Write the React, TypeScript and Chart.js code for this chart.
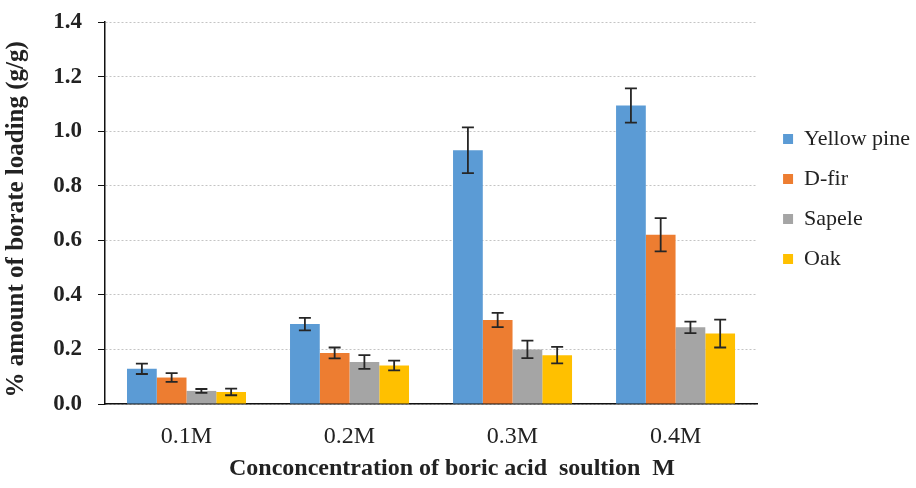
import React, { useEffect, useRef } from "react";
import { Chart, registerables } from "chart.js";

Chart.register(...registerables);

const categories = ["0.1M", "0.2M", "0.3M", "0.4M"];
const yellowPine = [0.129, 0.293, 0.93, 1.094];
const dFir = [0.097, 0.187, 0.308, 0.62];
const sapele = [0.048, 0.154, 0.2, 0.281];
const oak = [0.044, 0.141, 0.179, 0.258];
const yellowPineErr = [0.019, 0.023, 0.084, 0.063];
const dFirErr = [0.016, 0.02, 0.026, 0.061];
const sapeleErr = [0.007, 0.025, 0.032, 0.021];
const oakErr = [0.012, 0.018, 0.03, 0.051];

const FONT = "'Liberation Serif', 'Times New Roman', serif";

const errorBarPlugin = {
  id: "errorBars",
  afterDatasetsDraw(chart: any) {
    const ctx = chart.ctx;
    const yScale = chart.scales.y;
    chart.data.datasets.forEach((ds: any, i: number) => {
      const meta = chart.getDatasetMeta(i);
      const errs: number[] = ds.errors || [];
      meta.data.forEach((bar: any, j: number) => {
        const v = ds.data[j];
        const e = errs[j];
        if (e == null) return;
        const x = bar.x;
        const yt = yScale.getPixelForValue(v + e);
        const yb = yScale.getPixelForValue(v - e);
        ctx.save();
        ctx.strokeStyle = "#262626";
        ctx.lineWidth = 1.8;
        ctx.beginPath();
        ctx.moveTo(x, yt);
        ctx.lineTo(x, yb);
        ctx.moveTo(x - 6, yt);
        ctx.lineTo(x + 6, yt);
        ctx.moveTo(x - 6, yb);
        ctx.lineTo(x + 6, yb);
        ctx.stroke();
        ctx.restore();
      });
    });
  },
};

const legendShiftPlugin = {
  id: "legendShift",
  afterLayout(chart: any) {
    if (chart.legend) {
      chart.legend.left += 8;
      chart.legend.right += 8;
    }
  },
};

export default function App() {
  const ref = useRef<HTMLCanvasElement | null>(null);
  useEffect(() => {
    document.body.style.margin = "0";
    Chart.defaults.font.family = FONT;
    const c = ref.current;
    if (!c) return;
    const chart = new Chart(c, {
      type: "bar",
      data: {
        labels: categories,
        datasets: [
          { label: "Yellow pine", data: yellowPine, errors: yellowPineErr, backgroundColor: "#5B9BD5" } as any,
          { label: "D-fir", data: dFir, errors: dFirErr, backgroundColor: "#ED7D31" } as any,
          { label: "Sapele", data: sapele, errors: sapeleErr, backgroundColor: "#A5A5A5" } as any,
          { label: "Oak", data: oak, errors: oakErr, backgroundColor: "#FFC000" } as any,
        ],
      },
      options: {
        animation: false,
        responsive: false,
        maintainAspectRatio: false,
        font: { family: FONT },
        layout: { padding: { top: 22, right: 4, bottom: 0, left: 0 } },
        datasets: { bar: { categoryPercentage: 0.73, barPercentage: 1 } },
        plugins: {
          tooltip: { enabled: false },
          legend: {
            position: "right",
            align: "start",
            title: {
              display: true,
              text: "",
              font: { family: FONT, size: 10 },
              padding: 38,
            },
            labels: {
              boxWidth: 10,
              boxHeight: 10,
              padding: 18,
              color: "#222",
              font: { family: FONT, size: 22 },
            },
          },
        },
        scales: {
          x: {
            grid: { display: false },
            border: { display: true, color: "#111", width: 1.5 },
            ticks: { color: "#222", padding: 10, font: { family: FONT, size: 24 } },
            title: {
              display: true,
              text: "       Conconcentration of boric acid  soultion  M",
              color: "#222",
              font: { family: FONT, size: 24, weight: "bold" },
              padding: { top: 4, bottom: 5 },
            },
            afterFit: (scale: any) => {
              scale.height = 84;
            },
          },
          y: {
            min: 0,
            max: 1.4,
            ticks: {
              stepSize: 0.2,
              color: "#222",
              padding: 16,
              font: { family: FONT, size: 23, weight: "bold" },
              callback: (v: any) => Number(v).toFixed(1),
            },
            grid: { color: "#c4c4c4", tickColor: "#111", tickLength: 7, lineWidth: 1 },
            border: { display: true, color: "#111", width: 1.5, dash: [2, 2] },
            title: {
              display: true,
              text: "% amount of borate loading (g/g)  ",
              color: "#222",
              font: { family: FONT, size: 25, weight: "bold" },
              padding: { top: 2, bottom: 0 },
            },
            afterFit: (scale: any) => {
              scale.width = 105;
              scale.paddingTop = 0;
              scale.paddingBottom = 0;
            },
          },
        },
      },
      plugins: [errorBarPlugin, legendShiftPlugin],
    } as any);
    return () => chart.destroy();
  }, []);
  return <canvas ref={ref} width={916} height={488} style={{ display: "block" }} />;
}
